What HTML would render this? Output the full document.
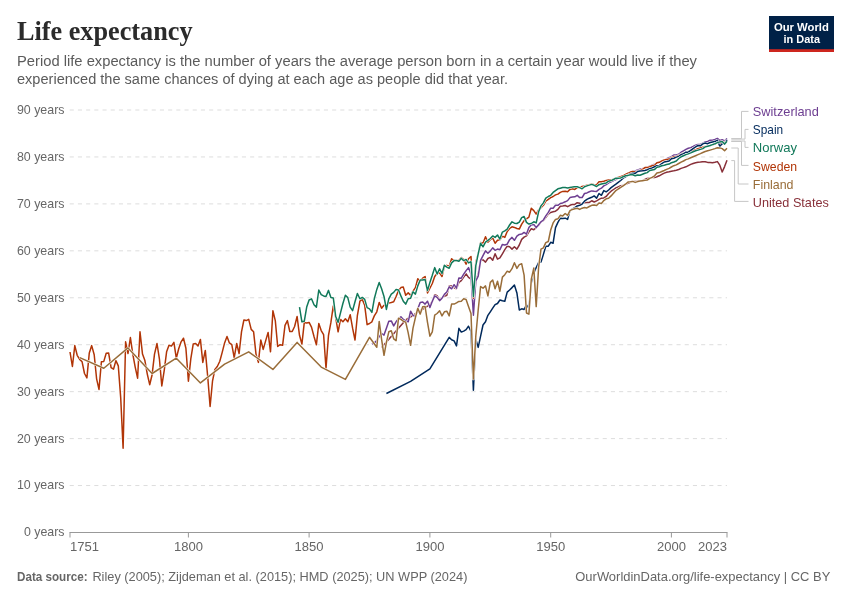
<!DOCTYPE html>
<html lang="en"><head><meta charset="utf-8"><title>Life expectancy</title>
<style>html,body{margin:0;padding:0;background:#fff}body{width:850px;height:600px;overflow:hidden}</style></head>
<body>
<svg width="850" height="600" viewBox="0 0 850 600" style="display:block;font-family:'Liberation Sans',sans-serif">
<rect width="850" height="600" fill="#fff"/>
<text x="17" y="40.2" font-family="'Liberation Serif',serif" font-weight="bold" font-size="28" fill="#2b2b2b" textLength="175.5" lengthAdjust="spacingAndGlyphs">Life expectancy</text>
<text x="17" y="66.4" font-size="14" fill="#5b5b5b" textLength="680" lengthAdjust="spacingAndGlyphs">Period life expectancy is the number of years the average person born in a certain year would live if they</text>
<text x="17" y="84.2" font-size="14" fill="#5b5b5b" textLength="491" lengthAdjust="spacingAndGlyphs">experienced the same chances of dying at each age as people did that year.</text>
<rect x="769" y="16" width="65" height="36" fill="#002147"/><rect x="769" y="49.2" width="65" height="2.8" fill="#ce261e"/>
<text x="801.4" y="30.6" font-size="11.5" font-weight="bold" fill="#fff" text-anchor="middle" textLength="55" lengthAdjust="spacingAndGlyphs">Our World</text>
<text x="801.8" y="42.6" font-size="11.5" font-weight="bold" fill="#fff" text-anchor="middle" textLength="36.5" lengthAdjust="spacingAndGlyphs">in Data</text>
<text x="64.5" y="536.4" font-size="13.2" fill="#666" text-anchor="end" textLength="40.6" lengthAdjust="spacingAndGlyphs">0 years</text>
<line x1="69.7" x2="727" y1="485.56" y2="485.56" stroke="#ddd" stroke-width="1" stroke-dasharray="4.1,4.1"/>
<text x="64.5" y="489.4" font-size="13.2" fill="#666" text-anchor="end" textLength="47.6" lengthAdjust="spacingAndGlyphs">10 years</text>
<line x1="69.7" x2="727" y1="438.61" y2="438.61" stroke="#ddd" stroke-width="1" stroke-dasharray="4.1,4.1"/>
<text x="64.5" y="442.5" font-size="13.2" fill="#666" text-anchor="end" textLength="47.6" lengthAdjust="spacingAndGlyphs">20 years</text>
<line x1="69.7" x2="727" y1="391.67" y2="391.67" stroke="#ddd" stroke-width="1" stroke-dasharray="4.1,4.1"/>
<text x="64.5" y="395.5" font-size="13.2" fill="#666" text-anchor="end" textLength="47.6" lengthAdjust="spacingAndGlyphs">30 years</text>
<line x1="69.7" x2="727" y1="344.72" y2="344.72" stroke="#ddd" stroke-width="1" stroke-dasharray="4.1,4.1"/>
<text x="64.5" y="348.6" font-size="13.2" fill="#666" text-anchor="end" textLength="47.6" lengthAdjust="spacingAndGlyphs">40 years</text>
<line x1="69.7" x2="727" y1="297.78" y2="297.78" stroke="#ddd" stroke-width="1" stroke-dasharray="4.1,4.1"/>
<text x="64.5" y="301.6" font-size="13.2" fill="#666" text-anchor="end" textLength="47.6" lengthAdjust="spacingAndGlyphs">50 years</text>
<line x1="69.7" x2="727" y1="250.83" y2="250.83" stroke="#ddd" stroke-width="1" stroke-dasharray="4.1,4.1"/>
<text x="64.5" y="254.7" font-size="13.2" fill="#666" text-anchor="end" textLength="47.6" lengthAdjust="spacingAndGlyphs">60 years</text>
<line x1="69.7" x2="727" y1="203.89" y2="203.89" stroke="#ddd" stroke-width="1" stroke-dasharray="4.1,4.1"/>
<text x="64.5" y="207.7" font-size="13.2" fill="#666" text-anchor="end" textLength="47.6" lengthAdjust="spacingAndGlyphs">70 years</text>
<line x1="69.7" x2="727" y1="156.94" y2="156.94" stroke="#ddd" stroke-width="1" stroke-dasharray="4.1,4.1"/>
<text x="64.5" y="160.8" font-size="13.2" fill="#666" text-anchor="end" textLength="47.6" lengthAdjust="spacingAndGlyphs">80 years</text>
<line x1="69.7" x2="727" y1="110.00" y2="110.00" stroke="#ddd" stroke-width="1" stroke-dasharray="4.1,4.1"/>
<text x="64.5" y="113.9" font-size="13.2" fill="#666" text-anchor="end" textLength="47.6" lengthAdjust="spacingAndGlyphs">90 years</text>
<line x1="69.5" x2="727.5" y1="532.5" y2="532.5" stroke="#999" stroke-width="1"/>
<line x1="70.0" x2="70.0" y1="532.5" y2="537.5" stroke="#999" stroke-width="1"/>
<text x="70.0" y="550.7" font-size="13.2" fill="#666" text-anchor="start" textLength="29" lengthAdjust="spacingAndGlyphs">1751</text>
<line x1="188.4" x2="188.4" y1="532.5" y2="537.5" stroke="#999" stroke-width="1"/>
<text x="188.4" y="550.7" font-size="13.2" fill="#666" text-anchor="middle" textLength="29" lengthAdjust="spacingAndGlyphs">1800</text>
<line x1="309.1" x2="309.1" y1="532.5" y2="537.5" stroke="#999" stroke-width="1"/>
<text x="309.1" y="550.7" font-size="13.2" fill="#666" text-anchor="middle" textLength="29" lengthAdjust="spacingAndGlyphs">1850</text>
<line x1="429.9" x2="429.9" y1="532.5" y2="537.5" stroke="#999" stroke-width="1"/>
<text x="429.9" y="550.7" font-size="13.2" fill="#666" text-anchor="middle" textLength="29" lengthAdjust="spacingAndGlyphs">1900</text>
<line x1="550.7" x2="550.7" y1="532.5" y2="537.5" stroke="#999" stroke-width="1"/>
<text x="550.7" y="550.7" font-size="13.2" fill="#666" text-anchor="middle" textLength="29" lengthAdjust="spacingAndGlyphs">1950</text>
<line x1="671.4" x2="671.4" y1="532.5" y2="537.5" stroke="#999" stroke-width="1"/>
<text x="671.4" y="550.7" font-size="13.2" fill="#666" text-anchor="middle" textLength="29" lengthAdjust="spacingAndGlyphs">2000</text>
<line x1="727.0" x2="727.0" y1="532.5" y2="537.5" stroke="#999" stroke-width="1"/>
<text x="727.0" y="550.7" font-size="13.2" fill="#666" text-anchor="end" textLength="29" lengthAdjust="spacingAndGlyphs">2023</text>
<path d="M731.3,138.6 H741.5 V111.4 H748.5" fill="none" stroke="#c6c6c6" stroke-width="1"/>
<path d="M731.3,139.1 H745.0 V129.4 H748.5" fill="none" stroke="#c6c6c6" stroke-width="1"/>
<path d="M731.3,141.0 H745.0 V147.4 H748.5" fill="none" stroke="#c6c6c6" stroke-width="1"/>
<path d="M731.3,141.5 H741.5 V165.4 H748.5" fill="none" stroke="#c6c6c6" stroke-width="1"/>
<path d="M731.3,148.0 H738.2 V184.0 H748.5" fill="none" stroke="#c6c6c6" stroke-width="1"/>
<path d="M731.3,160.6 H734.6 V201.4 H748.5" fill="none" stroke="#c6c6c6" stroke-width="1"/>
<path d="M381.6,347.5 L405.7,320.0 L429.9,304.6 L432.3,301.7 L434.7,294.7 L437.1,295.8 L439.6,299.9 L442.0,297.6 L444.4,296.4 L446.8,295.3 L449.2,285.9 L451.6,285.9 L454.1,287.7 L456.5,288.8 L458.9,282.4 L461.3,280.7 L463.7,277.2 L466.1,273.8 L468.5,277.4 L471.0,279.1 L473.4,311.0 L475.8,281.0 L478.2,273.8 L480.6,260.3 L483.0,259.7 L485.5,262.1 L487.9,258.5 L490.3,257.4 L492.7,260.3 L495.1,253.8 L497.5,259.1 L499.9,257.9 L502.4,253.8 L504.8,249.7 L507.2,246.2 L509.6,246.8 L512.0,249.1 L514.4,246.8 L516.9,249.1 L519.3,245.0 L521.7,239.4 L524.1,237.1 L526.5,235.9 L528.9,231.8 L531.3,228.8 L533.8,229.8 L536.2,227.6 L538.6,225.3 L541.0,221.8 L543.4,220.6 L545.8,217.6 L548.3,214.1 L550.7,212.4 L553.1,211.8 L555.5,211.2 L557.9,209.4 L560.3,206.2 L562.7,205.9 L565.2,205.5 L567.6,206.7 L570.0,205.3 L572.4,204.4 L574.8,204.4 L577.2,202.7 L579.7,203.2 L582.1,203.9 L584.5,202.7 L586.9,202.4 L589.3,202.4 L591.7,200.8 L594.2,202.0 L596.6,200.8 L599.0,199.4 L601.4,198.2 L603.8,198.0 L606.2,196.5 L608.6,193.5 L611.1,191.2 L613.5,189.5 L615.9,187.9 L618.2,186.9 L620.7,185.8 L623.1,185.6 L625.5,184.2 L628.0,183.2 L630.4,182.4 L632.7,181.6 L635.2,181.6 L637.6,181.4 L640.0,181.1 L642.5,180.7 L644.9,179.5 L647.2,178.4 L649.7,177.9 L652.1,177.6 L654.6,177.4 L656.9,176.8 L659.3,175.8 L661.8,174.4 L664.2,173.1 L666.6,172.3 L669.1,171.8 L671.4,171.2 L673.8,170.8 L676.3,170.2 L678.7,169.5 L681.1,168.4 L683.5,167.6 L685.9,166.8 L688.3,165.6 L690.7,164.4 L693.1,163.5 L695.6,162.8 L698.0,162.3 L700.4,162.1 L702.8,161.8 L705.2,161.7 L707.7,162.4 L710.1,162.6 L712.5,162.8 L714.9,162.3 L717.4,161.6 L719.8,165.2 L722.2,172.0 L724.6,166.6 L727.0,160.3" fill="none" stroke="#fff" stroke-width="2.5" stroke-linejoin="round" stroke-linecap="butt"/>
<path d="M381.6,347.5 L405.7,320.0 L429.9,304.6 L432.3,301.7 L434.7,294.7 L437.1,295.8 L439.6,299.9 L442.0,297.6 L444.4,296.4 L446.8,295.3 L449.2,285.9 L451.6,285.9 L454.1,287.7 L456.5,288.8 L458.9,282.4 L461.3,280.7 L463.7,277.2 L466.1,273.8 L468.5,277.4 L471.0,279.1 L473.4,311.0 L475.8,281.0 L478.2,273.8 L480.6,260.3 L483.0,259.7 L485.5,262.1 L487.9,258.5 L490.3,257.4 L492.7,260.3 L495.1,253.8 L497.5,259.1 L499.9,257.9 L502.4,253.8 L504.8,249.7 L507.2,246.2 L509.6,246.8 L512.0,249.1 L514.4,246.8 L516.9,249.1 L519.3,245.0 L521.7,239.4 L524.1,237.1 L526.5,235.9 L528.9,231.8 L531.3,228.8 L533.8,229.8 L536.2,227.6 L538.6,225.3 L541.0,221.8 L543.4,220.6 L545.8,217.6 L548.3,214.1 L550.7,212.4 L553.1,211.8 L555.5,211.2 L557.9,209.4 L560.3,206.2 L562.7,205.9 L565.2,205.5 L567.6,206.7 L570.0,205.3 L572.4,204.4 L574.8,204.4 L577.2,202.7 L579.7,203.2 L582.1,203.9 L584.5,202.7 L586.9,202.4 L589.3,202.4 L591.7,200.8 L594.2,202.0 L596.6,200.8 L599.0,199.4 L601.4,198.2 L603.8,198.0 L606.2,196.5 L608.6,193.5 L611.1,191.2 L613.5,189.5 L615.9,187.9 L618.2,186.9 L620.7,185.8 L623.1,185.6 L625.5,184.2 L628.0,183.2 L630.4,182.4 L632.7,181.6 L635.2,181.6 L637.6,181.4 L640.0,181.1 L642.5,180.7 L644.9,179.5 L647.2,178.4 L649.7,177.9 L652.1,177.6 L654.6,177.4 L656.9,176.8 L659.3,175.8 L661.8,174.4 L664.2,173.1 L666.6,172.3 L669.1,171.8 L671.4,171.2 L673.8,170.8 L676.3,170.2 L678.7,169.5 L681.1,168.4 L683.5,167.6 L685.9,166.8 L688.3,165.6 L690.7,164.4 L693.1,163.5 L695.6,162.8 L698.0,162.3 L700.4,162.1 L702.8,161.8 L705.2,161.7 L707.7,162.4 L710.1,162.6 L712.5,162.8 L714.9,162.3 L717.4,161.6 L719.8,165.2 L722.2,172.0 L724.6,166.6 L727.0,160.3" fill="none" stroke="#883039" stroke-width="1.5" stroke-linejoin="round" stroke-linecap="butt"/>
<path d="M371.9,344.1 L374.3,342.9 L376.8,340.6 L379.2,336.5 L381.6,333.5 L384.0,335.1 L386.4,328.2 L388.8,321.2 L391.3,320.9 L393.7,325.9 L396.1,321.8 L398.5,318.8 L400.9,316.7 L403.3,319.4 L405.7,320.9 L408.2,321.8 L410.6,311.2 L413.0,315.3 L415.4,316.5 L417.8,308.8 L420.2,302.4 L422.7,302.0 L425.1,304.1 L427.5,301.2 L429.9,307.6 L432.3,301.2 L434.7,295.9 L437.1,297.4 L439.6,300.6 L442.0,298.2 L444.4,294.4 L446.8,292.0 L449.2,286.8 L451.6,288.8 L454.1,284.7 L456.5,288.2 L458.9,277.9 L461.3,278.2 L463.7,274.1 L466.1,270.6 L468.5,267.6 L471.0,274.1 L473.4,315.3 L475.8,280.9 L478.2,276.2 L480.6,260.3 L483.0,255.6 L485.5,250.9 L487.9,253.2 L490.3,250.9 L492.7,247.9 L495.1,250.3 L497.5,249.1 L499.9,249.7 L502.4,244.4 L504.8,245.0 L507.2,244.2 L509.6,239.7 L512.0,237.4 L514.4,240.3 L516.9,236.2 L519.3,234.4 L521.7,234.1 L524.1,232.4 L526.5,234.1 L528.9,227.6 L531.3,224.7 L533.8,224.4 L536.2,227.6 L538.6,224.7 L541.0,221.8 L543.4,220.0 L545.8,215.9 L548.3,212.4 L550.7,208.2 L553.1,208.2 L555.5,205.3 L557.9,205.3 L560.3,203.5 L562.7,202.9 L565.2,201.8 L567.6,200.6 L570.0,197.6 L572.4,197.1 L574.8,196.8 L577.2,195.3 L579.7,197.6 L582.1,197.6 L584.5,193.5 L586.9,192.9 L589.3,191.8 L591.7,190.9 L594.2,191.2 L596.6,191.4 L599.0,189.4 L601.4,188.2 L603.8,185.9 L606.2,184.7 L608.6,182.9 L611.1,181.8 L613.5,180.5 L615.9,179.5 L618.2,178.2 L620.7,176.8 L623.1,175.8 L626.2,174.2 L628.0,173.3 L630.4,172.3 L632.7,171.5 L635.2,171.0 L637.6,169.9 L640.0,169.1 L642.5,168.7 L644.9,167.8 L647.2,167.1 L649.7,166.2 L652.1,165.2 L654.6,164.1 L656.9,163.1 L659.3,162.3 L661.8,161.3 L664.2,160.2 L666.6,158.8 L669.1,157.8 L671.4,156.7 L673.8,155.1 L676.3,155.0 L678.7,154.3 L681.1,152.2 L683.5,150.8 L685.9,149.4 L688.3,148.3 L690.7,147.6 L693.1,146.5 L695.6,145.1 L698.0,144.4 L700.4,144.4 L702.8,143.2 L705.2,141.8 L707.7,141.4 L710.1,140.2 L712.5,140.2 L714.9,139.5 L717.4,138.4 L719.8,140.5 L722.2,139.8 L724.6,140.9 L727.0,138.4" fill="none" stroke="#fff" stroke-width="2.5" stroke-linejoin="round" stroke-linecap="butt"/>
<path d="M371.9,344.1 L374.3,342.9 L376.8,340.6 L379.2,336.5 L381.6,333.5 L384.0,335.1 L386.4,328.2 L388.8,321.2 L391.3,320.9 L393.7,325.9 L396.1,321.8 L398.5,318.8 L400.9,316.7 L403.3,319.4 L405.7,320.9 L408.2,321.8 L410.6,311.2 L413.0,315.3 L415.4,316.5 L417.8,308.8 L420.2,302.4 L422.7,302.0 L425.1,304.1 L427.5,301.2 L429.9,307.6 L432.3,301.2 L434.7,295.9 L437.1,297.4 L439.6,300.6 L442.0,298.2 L444.4,294.4 L446.8,292.0 L449.2,286.8 L451.6,288.8 L454.1,284.7 L456.5,288.2 L458.9,277.9 L461.3,278.2 L463.7,274.1 L466.1,270.6 L468.5,267.6 L471.0,274.1 L473.4,315.3 L475.8,280.9 L478.2,276.2 L480.6,260.3 L483.0,255.6 L485.5,250.9 L487.9,253.2 L490.3,250.9 L492.7,247.9 L495.1,250.3 L497.5,249.1 L499.9,249.7 L502.4,244.4 L504.8,245.0 L507.2,244.2 L509.6,239.7 L512.0,237.4 L514.4,240.3 L516.9,236.2 L519.3,234.4 L521.7,234.1 L524.1,232.4 L526.5,234.1 L528.9,227.6 L531.3,224.7 L533.8,224.4 L536.2,227.6 L538.6,224.7 L541.0,221.8 L543.4,220.0 L545.8,215.9 L548.3,212.4 L550.7,208.2 L553.1,208.2 L555.5,205.3 L557.9,205.3 L560.3,203.5 L562.7,202.9 L565.2,201.8 L567.6,200.6 L570.0,197.6 L572.4,197.1 L574.8,196.8 L577.2,195.3 L579.7,197.6 L582.1,197.6 L584.5,193.5 L586.9,192.9 L589.3,191.8 L591.7,190.9 L594.2,191.2 L596.6,191.4 L599.0,189.4 L601.4,188.2 L603.8,185.9 L606.2,184.7 L608.6,182.9 L611.1,181.8 L613.5,180.5 L615.9,179.5 L618.2,178.2 L620.7,176.8 L623.1,175.8 L626.2,174.2 L628.0,173.3 L630.4,172.3 L632.7,171.5 L635.2,171.0 L637.6,169.9 L640.0,169.1 L642.5,168.7 L644.9,167.8 L647.2,167.1 L649.7,166.2 L652.1,165.2 L654.6,164.1 L656.9,163.1 L659.3,162.3 L661.8,161.3 L664.2,160.2 L666.6,158.8 L669.1,157.8 L671.4,156.7 L673.8,155.1 L676.3,155.0 L678.7,154.3 L681.1,152.2 L683.5,150.8 L685.9,149.4 L688.3,148.3 L690.7,147.6 L693.1,146.5 L695.6,145.1 L698.0,144.4 L700.4,144.4 L702.8,143.2 L705.2,141.8 L707.7,141.4 L710.1,140.2 L712.5,140.2 L714.9,139.5 L717.4,138.4 L719.8,140.5 L722.2,139.8 L724.6,140.9 L727.0,138.4" fill="none" stroke="#6D3E91" stroke-width="1.5" stroke-linejoin="round" stroke-linecap="butt"/>
<path d="M70.0,352.0 L72.4,366.5 L74.8,345.6 L77.2,355.3 L79.7,359.4 L82.1,361.8 L84.5,373.5 L86.9,377.9 L89.3,352.9 L91.7,345.6 L94.2,354.7 L96.6,378.8 L99.0,389.4 L101.4,361.8 L103.8,361.4 L106.2,353.3 L108.6,352.9 L111.1,367.6 L113.5,369.2 L115.9,360.6 L118.3,365.9 L120.7,397.6 L123.1,448.2 L125.6,341.8 L128.0,353.5 L130.4,337.6 L132.8,354.1 L135.2,367.1 L137.6,378.2 L140.0,331.8 L142.5,354.1 L144.9,360.6 L147.3,374.1 L149.7,384.7 L152.1,374.7 L154.5,354.1 L157.0,343.5 L159.4,358.8 L161.8,385.9 L164.2,370.6 L166.6,351.8 L169.0,345.3 L171.4,346.1 L173.9,342.4 L176.3,358.2 L178.7,348.8 L181.1,341.8 L183.5,338.2 L185.9,348.2 L188.4,381.2 L190.8,358.8 L193.2,344.1 L195.6,343.5 L198.0,345.9 L200.4,339.4 L202.8,362.4 L205.3,350.4 L207.7,376.5 L210.1,406.5 L212.5,381.2 L214.9,369.4 L217.3,366.5 L219.8,361.2 L222.2,352.4 L224.6,342.9 L227.0,336.5 L229.4,342.9 L231.8,344.7 L234.2,357.6 L236.7,343.5 L239.1,353.5 L241.5,331.8 L243.9,320.0 L246.3,320.6 L248.7,319.4 L251.2,329.4 L253.6,331.8 L256.0,354.1 L258.4,362.4 L260.8,340.0 L263.2,349.4 L265.7,340.6 L268.1,332.4 L270.5,351.8 L272.9,310.8 L275.3,320.6 L277.7,346.5 L280.1,344.7 L282.6,345.3 L285.0,325.3 L287.4,320.6 L289.8,331.5 L292.2,331.5 L294.6,326.5 L297.1,316.5 L299.5,335.3 L301.9,344.1 L304.3,322.4 L306.7,322.9 L309.1,322.4 L311.5,327.1 L314.0,336.5 L316.4,344.7 L318.8,323.5 L321.2,330.6 L323.6,334.7 L326.0,368.2 L328.5,335.3 L330.9,322.4 L333.3,305.9 L335.7,317.6 L338.1,331.8 L340.5,319.4 L342.9,321.8 L345.4,318.8 L347.8,321.8 L350.2,314.7 L352.6,328.2 L355.0,340.0 L357.4,315.3 L359.9,301.2 L362.3,299.4 L364.7,305.3 L367.1,324.7 L369.5,323.5 L371.9,321.8 L374.3,315.9 L376.8,311.8 L379.2,302.4 L381.6,308.2 L384.0,305.3 L386.4,304.1 L388.8,302.9 L391.3,302.4 L393.7,301.8 L396.1,296.5 L398.5,290.6 L400.9,287.6 L403.3,287.1 L405.7,295.3 L408.2,292.9 L410.6,295.3 L413.0,291.2 L415.4,287.6 L417.8,278.8 L420.2,281.2 L422.7,278.2 L425.1,276.5 L427.5,292.9 L429.9,288.2 L432.3,283.5 L434.7,276.5 L437.1,273.5 L439.6,272.9 L442.0,276.5 L444.4,266.5 L446.8,265.3 L449.2,266.5 L451.6,258.8 L454.1,260.6 L456.5,260.9 L458.9,260.2 L461.3,257.6 L463.7,259.4 L466.1,264.1 L468.5,258.8 L471.0,256.5 L473.4,298.2 L475.8,262.1 L478.2,253.8 L480.6,242.6 L483.0,243.2 L485.5,236.8 L487.9,242.1 L490.3,239.7 L492.7,237.9 L495.1,243.2 L497.5,240.3 L499.9,239.7 L502.4,236.2 L504.8,237.4 L507.2,231.5 L509.6,228.5 L512.0,226.8 L514.4,227.4 L516.9,228.5 L519.3,229.1 L521.7,224.1 L524.1,220.6 L526.5,218.8 L528.9,217.1 L531.3,208.2 L533.8,210.6 L536.2,214.1 L538.6,210.0 L541.0,207.6 L543.4,205.3 L545.8,201.2 L548.3,199.4 L550.7,197.6 L553.1,196.5 L555.5,194.9 L557.9,194.1 L560.3,192.4 L562.7,191.4 L565.2,191.2 L567.6,191.8 L570.0,189.4 L572.4,188.8 L574.8,189.4 L577.2,187.6 L579.7,187.6 L582.1,186.5 L584.5,185.9 L586.9,185.3 L589.3,184.7 L591.7,184.1 L594.2,184.7 L596.6,184.7 L599.0,181.8 L601.4,181.8 L603.8,181.2 L606.2,180.4 L608.6,180.0 L611.1,180.0 L613.5,179.3 L615.9,177.9 L618.2,177.4 L620.7,176.8 L623.1,175.8 L625.5,174.4 L628.0,173.3 L630.4,172.1 L632.7,171.5 L635.2,172.1 L637.6,171.0 L640.0,170.5 L642.5,169.4 L644.9,167.6 L647.2,167.6 L649.7,166.8 L652.1,165.7 L654.6,165.2 L656.9,162.7 L659.3,162.3 L661.8,160.9 L664.2,159.9 L666.6,159.6 L669.1,159.1 L671.4,157.8 L673.8,157.0 L676.3,156.6 L678.7,155.4 L681.1,154.3 L683.5,153.2 L685.9,152.4 L688.3,151.5 L690.7,151.0 L693.1,150.4 L695.6,149.7 L698.0,148.7 L700.4,147.9 L702.8,147.2 L705.2,146.5 L707.7,146.2 L710.1,145.5 L712.5,144.8 L714.9,144.1 L717.4,142.3 L719.8,144.4 L722.2,141.9 L724.6,142.3 L727.0,140.5" fill="none" stroke="#fff" stroke-width="2.5" stroke-linejoin="round" stroke-linecap="butt"/>
<path d="M70.0,352.0 L72.4,366.5 L74.8,345.6 L77.2,355.3 L79.7,359.4 L82.1,361.8 L84.5,373.5 L86.9,377.9 L89.3,352.9 L91.7,345.6 L94.2,354.7 L96.6,378.8 L99.0,389.4 L101.4,361.8 L103.8,361.4 L106.2,353.3 L108.6,352.9 L111.1,367.6 L113.5,369.2 L115.9,360.6 L118.3,365.9 L120.7,397.6 L123.1,448.2 L125.6,341.8 L128.0,353.5 L130.4,337.6 L132.8,354.1 L135.2,367.1 L137.6,378.2 L140.0,331.8 L142.5,354.1 L144.9,360.6 L147.3,374.1 L149.7,384.7 L152.1,374.7 L154.5,354.1 L157.0,343.5 L159.4,358.8 L161.8,385.9 L164.2,370.6 L166.6,351.8 L169.0,345.3 L171.4,346.1 L173.9,342.4 L176.3,358.2 L178.7,348.8 L181.1,341.8 L183.5,338.2 L185.9,348.2 L188.4,381.2 L190.8,358.8 L193.2,344.1 L195.6,343.5 L198.0,345.9 L200.4,339.4 L202.8,362.4 L205.3,350.4 L207.7,376.5 L210.1,406.5 L212.5,381.2 L214.9,369.4 L217.3,366.5 L219.8,361.2 L222.2,352.4 L224.6,342.9 L227.0,336.5 L229.4,342.9 L231.8,344.7 L234.2,357.6 L236.7,343.5 L239.1,353.5 L241.5,331.8 L243.9,320.0 L246.3,320.6 L248.7,319.4 L251.2,329.4 L253.6,331.8 L256.0,354.1 L258.4,362.4 L260.8,340.0 L263.2,349.4 L265.7,340.6 L268.1,332.4 L270.5,351.8 L272.9,310.8 L275.3,320.6 L277.7,346.5 L280.1,344.7 L282.6,345.3 L285.0,325.3 L287.4,320.6 L289.8,331.5 L292.2,331.5 L294.6,326.5 L297.1,316.5 L299.5,335.3 L301.9,344.1 L304.3,322.4 L306.7,322.9 L309.1,322.4 L311.5,327.1 L314.0,336.5 L316.4,344.7 L318.8,323.5 L321.2,330.6 L323.6,334.7 L326.0,368.2 L328.5,335.3 L330.9,322.4 L333.3,305.9 L335.7,317.6 L338.1,331.8 L340.5,319.4 L342.9,321.8 L345.4,318.8 L347.8,321.8 L350.2,314.7 L352.6,328.2 L355.0,340.0 L357.4,315.3 L359.9,301.2 L362.3,299.4 L364.7,305.3 L367.1,324.7 L369.5,323.5 L371.9,321.8 L374.3,315.9 L376.8,311.8 L379.2,302.4 L381.6,308.2 L384.0,305.3 L386.4,304.1 L388.8,302.9 L391.3,302.4 L393.7,301.8 L396.1,296.5 L398.5,290.6 L400.9,287.6 L403.3,287.1 L405.7,295.3 L408.2,292.9 L410.6,295.3 L413.0,291.2 L415.4,287.6 L417.8,278.8 L420.2,281.2 L422.7,278.2 L425.1,276.5 L427.5,292.9 L429.9,288.2 L432.3,283.5 L434.7,276.5 L437.1,273.5 L439.6,272.9 L442.0,276.5 L444.4,266.5 L446.8,265.3 L449.2,266.5 L451.6,258.8 L454.1,260.6 L456.5,260.9 L458.9,260.2 L461.3,257.6 L463.7,259.4 L466.1,264.1 L468.5,258.8 L471.0,256.5 L473.4,298.2 L475.8,262.1 L478.2,253.8 L480.6,242.6 L483.0,243.2 L485.5,236.8 L487.9,242.1 L490.3,239.7 L492.7,237.9 L495.1,243.2 L497.5,240.3 L499.9,239.7 L502.4,236.2 L504.8,237.4 L507.2,231.5 L509.6,228.5 L512.0,226.8 L514.4,227.4 L516.9,228.5 L519.3,229.1 L521.7,224.1 L524.1,220.6 L526.5,218.8 L528.9,217.1 L531.3,208.2 L533.8,210.6 L536.2,214.1 L538.6,210.0 L541.0,207.6 L543.4,205.3 L545.8,201.2 L548.3,199.4 L550.7,197.6 L553.1,196.5 L555.5,194.9 L557.9,194.1 L560.3,192.4 L562.7,191.4 L565.2,191.2 L567.6,191.8 L570.0,189.4 L572.4,188.8 L574.8,189.4 L577.2,187.6 L579.7,187.6 L582.1,186.5 L584.5,185.9 L586.9,185.3 L589.3,184.7 L591.7,184.1 L594.2,184.7 L596.6,184.7 L599.0,181.8 L601.4,181.8 L603.8,181.2 L606.2,180.4 L608.6,180.0 L611.1,180.0 L613.5,179.3 L615.9,177.9 L618.2,177.4 L620.7,176.8 L623.1,175.8 L625.5,174.4 L628.0,173.3 L630.4,172.1 L632.7,171.5 L635.2,172.1 L637.6,171.0 L640.0,170.5 L642.5,169.4 L644.9,167.6 L647.2,167.6 L649.7,166.8 L652.1,165.7 L654.6,165.2 L656.9,162.7 L659.3,162.3 L661.8,160.9 L664.2,159.9 L666.6,159.6 L669.1,159.1 L671.4,157.8 L673.8,157.0 L676.3,156.6 L678.7,155.4 L681.1,154.3 L683.5,153.2 L685.9,152.4 L688.3,151.5 L690.7,151.0 L693.1,150.4 L695.6,149.7 L698.0,148.7 L700.4,147.9 L702.8,147.2 L705.2,146.5 L707.7,146.2 L710.1,145.5 L712.5,144.8 L714.9,144.1 L717.4,142.3 L719.8,144.4 L722.2,141.9 L724.6,142.3 L727.0,140.5" fill="none" stroke="#B13507" stroke-width="1.5" stroke-linejoin="round" stroke-linecap="butt"/>
<path d="M386.4,393.5 L410.6,381.4 L429.9,368.8 L449.2,337.4 L451.6,339.7 L454.1,340.9 L456.5,345.9 L458.9,328.3 L461.3,332.1 L463.7,331.1 L466.1,329.7 L468.5,326.2 L471.0,331.5 L473.4,390.3 L475.8,339.1 L478.2,347.4 L480.6,336.2 L483.0,325.0 L485.5,321.8 L487.9,315.3 L490.3,311.8 L492.7,308.2 L495.1,304.7 L497.5,303.5 L499.9,300.0 L502.4,300.8 L504.8,301.2 L507.2,292.1 L509.6,290.0 L512.0,287.6 L514.4,285.1 L516.9,292.9 L519.3,310.0 L521.7,308.8 L524.1,309.4 L526.5,304.8 L528.9,308.3 L531.3,282.7 L533.8,273.3 L536.2,267.5 L538.6,262.5 L541.0,262.1 L543.4,254.4 L545.8,246.2 L548.3,246.2 L550.7,242.3 L553.1,243.2 L555.5,227.6 L557.9,222.4 L560.3,218.2 L562.7,218.5 L565.2,218.2 L567.6,219.4 L570.0,210.6 L572.4,208.8 L574.8,207.6 L577.2,205.9 L579.7,205.3 L582.1,204.1 L584.5,201.2 L586.9,199.4 L589.3,198.2 L591.7,197.3 L594.2,195.9 L596.6,198.2 L599.0,193.5 L601.4,195.3 L603.8,190.6 L606.2,191.8 L608.6,190.0 L611.1,187.6 L613.5,185.8 L615.9,184.2 L618.2,182.4 L620.7,180.5 L623.1,178.2 L625.5,176.8 L628.0,175.0 L630.4,174.0 L632.7,173.3 L635.2,173.3 L637.6,171.5 L640.0,171.0 L642.5,170.8 L644.9,170.5 L647.2,169.7 L649.7,168.7 L652.1,168.0 L654.6,166.8 L656.9,165.7 L659.3,165.5 L661.8,163.6 L664.2,162.0 L666.6,161.5 L669.1,160.9 L671.4,158.8 L673.8,158.3 L676.3,157.1 L678.7,156.4 L681.1,154.6 L683.5,153.8 L685.9,152.2 L688.3,152.2 L690.7,150.4 L693.1,148.6 L695.6,146.9 L698.0,145.5 L700.4,145.8 L702.8,143.9 L705.2,143.0 L707.7,143.7 L710.1,142.5 L712.5,141.9 L714.9,141.6 L717.4,140.2 L719.8,146.2 L722.2,143.7 L724.6,143.4 L727.0,139.8" fill="none" stroke="#fff" stroke-width="2.5" stroke-linejoin="round" stroke-linecap="butt"/>
<path d="M386.4,393.5 L410.6,381.4 L429.9,368.8 L449.2,337.4 L451.6,339.7 L454.1,340.9 L456.5,345.9 L458.9,328.3 L461.3,332.1 L463.7,331.1 L466.1,329.7 L468.5,326.2 L471.0,331.5 L473.4,390.3 L475.8,339.1 L478.2,347.4 L480.6,336.2 L483.0,325.0 L485.5,321.8 L487.9,315.3 L490.3,311.8 L492.7,308.2 L495.1,304.7 L497.5,303.5 L499.9,300.0 L502.4,300.8 L504.8,301.2 L507.2,292.1 L509.6,290.0 L512.0,287.6 L514.4,285.1 L516.9,292.9 L519.3,310.0 L521.7,308.8 L524.1,309.4 L526.5,304.8 L528.9,308.3 L531.3,282.7 L533.8,273.3 L536.2,267.5 L538.6,262.5 L541.0,262.1 L543.4,254.4 L545.8,246.2 L548.3,246.2 L550.7,242.3 L553.1,243.2 L555.5,227.6 L557.9,222.4 L560.3,218.2 L562.7,218.5 L565.2,218.2 L567.6,219.4 L570.0,210.6 L572.4,208.8 L574.8,207.6 L577.2,205.9 L579.7,205.3 L582.1,204.1 L584.5,201.2 L586.9,199.4 L589.3,198.2 L591.7,197.3 L594.2,195.9 L596.6,198.2 L599.0,193.5 L601.4,195.3 L603.8,190.6 L606.2,191.8 L608.6,190.0 L611.1,187.6 L613.5,185.8 L615.9,184.2 L618.2,182.4 L620.7,180.5 L623.1,178.2 L625.5,176.8 L628.0,175.0 L630.4,174.0 L632.7,173.3 L635.2,173.3 L637.6,171.5 L640.0,171.0 L642.5,170.8 L644.9,170.5 L647.2,169.7 L649.7,168.7 L652.1,168.0 L654.6,166.8 L656.9,165.7 L659.3,165.5 L661.8,163.6 L664.2,162.0 L666.6,161.5 L669.1,160.9 L671.4,158.8 L673.8,158.3 L676.3,157.1 L678.7,156.4 L681.1,154.6 L683.5,153.8 L685.9,152.2 L688.3,152.2 L690.7,150.4 L693.1,148.6 L695.6,146.9 L698.0,145.5 L700.4,145.8 L702.8,143.9 L705.2,143.0 L707.7,143.7 L710.1,142.5 L712.5,141.9 L714.9,141.6 L717.4,140.2 L719.8,146.2 L722.2,143.7 L724.6,143.4 L727.0,139.8" fill="none" stroke="#00295B" stroke-width="1.5" stroke-linejoin="round" stroke-linecap="butt"/>
<path d="M299.5,307.1 L301.9,321.8 L304.3,321.2 L306.7,307.1 L309.1,300.0 L311.5,298.8 L314.0,304.7 L316.4,307.1 L318.8,290.0 L321.2,294.7 L323.6,295.9 L326.0,296.5 L328.5,290.4 L330.9,297.6 L333.3,297.9 L335.7,316.5 L338.1,322.4 L340.5,312.9 L342.9,303.5 L345.4,295.3 L347.8,297.6 L350.2,307.1 L352.6,310.6 L355.0,301.8 L357.4,293.5 L359.9,298.8 L362.3,297.4 L364.7,299.4 L367.1,307.6 L369.5,308.8 L371.9,312.4 L374.3,298.8 L376.8,289.4 L379.2,282.4 L381.6,288.8 L384.0,296.5 L386.4,309.4 L388.8,298.8 L391.3,294.1 L393.7,292.4 L396.1,289.4 L398.5,290.0 L400.9,295.9 L403.3,301.2 L405.7,304.1 L408.2,298.8 L410.6,298.2 L413.0,291.8 L415.4,294.1 L417.8,285.9 L420.2,280.0 L422.7,280.0 L425.1,279.4 L427.5,290.6 L429.9,282.4 L432.3,275.3 L434.7,267.6 L437.1,274.1 L439.6,268.8 L442.0,273.5 L444.4,265.3 L446.8,267.1 L449.2,268.2 L451.6,262.9 L454.1,260.6 L456.5,260.6 L458.9,261.2 L461.3,258.2 L463.7,260.6 L466.1,259.4 L468.5,262.9 L471.0,261.8 L473.4,296.5 L475.8,265.6 L478.2,253.8 L480.6,243.2 L483.0,246.8 L485.5,242.1 L487.9,240.3 L490.3,238.5 L492.7,235.9 L495.1,237.4 L497.5,235.0 L499.9,239.1 L502.4,232.1 L504.8,230.9 L507.2,229.1 L509.6,225.0 L512.0,221.8 L514.4,223.2 L516.9,223.5 L519.3,222.1 L521.7,217.6 L524.1,216.5 L526.5,222.4 L528.9,224.1 L531.3,223.5 L533.8,221.8 L536.2,222.9 L538.6,211.8 L541.0,205.9 L543.4,202.9 L545.8,198.2 L548.3,196.5 L550.7,195.3 L553.1,192.4 L555.5,190.6 L557.9,188.8 L560.3,188.2 L562.7,187.6 L565.2,187.4 L567.6,187.9 L570.0,187.4 L572.4,187.1 L574.8,186.7 L577.2,186.8 L579.7,187.6 L582.1,188.8 L584.5,186.7 L586.9,185.9 L589.3,185.1 L591.7,184.4 L594.2,185.3 L596.6,186.5 L599.0,184.7 L601.4,184.1 L603.8,183.5 L606.2,182.9 L608.6,181.2 L611.1,180.6 L613.5,179.5 L615.9,178.2 L618.2,178.2 L620.7,177.9 L623.1,176.8 L625.5,175.8 L628.0,175.4 L630.4,174.7 L632.7,174.7 L635.2,175.8 L637.6,175.0 L640.0,175.2 L642.5,174.2 L644.9,173.3 L647.2,172.6 L649.7,170.5 L652.1,169.9 L654.6,169.4 L656.9,167.3 L659.3,166.8 L661.8,165.7 L664.2,165.2 L666.6,164.6 L669.1,164.1 L671.4,162.7 L673.8,162.0 L676.3,161.0 L678.7,158.5 L681.1,156.8 L683.5,155.7 L685.9,154.6 L688.3,153.9 L690.7,152.9 L693.1,151.8 L695.6,150.8 L698.0,150.1 L700.4,149.4 L702.8,148.6 L705.2,146.9 L707.7,146.2 L710.1,145.5 L712.5,144.6 L714.9,143.7 L717.4,142.6 L719.8,141.9 L722.2,141.6 L724.6,144.1 L727.0,141.2" fill="none" stroke="#fff" stroke-width="2.5" stroke-linejoin="round" stroke-linecap="butt"/>
<path d="M299.5,307.1 L301.9,321.8 L304.3,321.2 L306.7,307.1 L309.1,300.0 L311.5,298.8 L314.0,304.7 L316.4,307.1 L318.8,290.0 L321.2,294.7 L323.6,295.9 L326.0,296.5 L328.5,290.4 L330.9,297.6 L333.3,297.9 L335.7,316.5 L338.1,322.4 L340.5,312.9 L342.9,303.5 L345.4,295.3 L347.8,297.6 L350.2,307.1 L352.6,310.6 L355.0,301.8 L357.4,293.5 L359.9,298.8 L362.3,297.4 L364.7,299.4 L367.1,307.6 L369.5,308.8 L371.9,312.4 L374.3,298.8 L376.8,289.4 L379.2,282.4 L381.6,288.8 L384.0,296.5 L386.4,309.4 L388.8,298.8 L391.3,294.1 L393.7,292.4 L396.1,289.4 L398.5,290.0 L400.9,295.9 L403.3,301.2 L405.7,304.1 L408.2,298.8 L410.6,298.2 L413.0,291.8 L415.4,294.1 L417.8,285.9 L420.2,280.0 L422.7,280.0 L425.1,279.4 L427.5,290.6 L429.9,282.4 L432.3,275.3 L434.7,267.6 L437.1,274.1 L439.6,268.8 L442.0,273.5 L444.4,265.3 L446.8,267.1 L449.2,268.2 L451.6,262.9 L454.1,260.6 L456.5,260.6 L458.9,261.2 L461.3,258.2 L463.7,260.6 L466.1,259.4 L468.5,262.9 L471.0,261.8 L473.4,296.5 L475.8,265.6 L478.2,253.8 L480.6,243.2 L483.0,246.8 L485.5,242.1 L487.9,240.3 L490.3,238.5 L492.7,235.9 L495.1,237.4 L497.5,235.0 L499.9,239.1 L502.4,232.1 L504.8,230.9 L507.2,229.1 L509.6,225.0 L512.0,221.8 L514.4,223.2 L516.9,223.5 L519.3,222.1 L521.7,217.6 L524.1,216.5 L526.5,222.4 L528.9,224.1 L531.3,223.5 L533.8,221.8 L536.2,222.9 L538.6,211.8 L541.0,205.9 L543.4,202.9 L545.8,198.2 L548.3,196.5 L550.7,195.3 L553.1,192.4 L555.5,190.6 L557.9,188.8 L560.3,188.2 L562.7,187.6 L565.2,187.4 L567.6,187.9 L570.0,187.4 L572.4,187.1 L574.8,186.7 L577.2,186.8 L579.7,187.6 L582.1,188.8 L584.5,186.7 L586.9,185.9 L589.3,185.1 L591.7,184.4 L594.2,185.3 L596.6,186.5 L599.0,184.7 L601.4,184.1 L603.8,183.5 L606.2,182.9 L608.6,181.2 L611.1,180.6 L613.5,179.5 L615.9,178.2 L618.2,178.2 L620.7,177.9 L623.1,176.8 L625.5,175.8 L628.0,175.4 L630.4,174.7 L632.7,174.7 L635.2,175.8 L637.6,175.0 L640.0,175.2 L642.5,174.2 L644.9,173.3 L647.2,172.6 L649.7,170.5 L652.1,169.9 L654.6,169.4 L656.9,167.3 L659.3,166.8 L661.8,165.7 L664.2,165.2 L666.6,164.6 L669.1,164.1 L671.4,162.7 L673.8,162.0 L676.3,161.0 L678.7,158.5 L681.1,156.8 L683.5,155.7 L685.9,154.6 L688.3,153.9 L690.7,152.9 L693.1,151.8 L695.6,150.8 L698.0,150.1 L700.4,149.4 L702.8,148.6 L705.2,146.9 L707.7,146.2 L710.1,145.5 L712.5,144.6 L714.9,143.7 L717.4,142.6 L719.8,141.9 L722.2,141.6 L724.6,144.1 L727.0,141.2" fill="none" stroke="#12795A" stroke-width="1.5" stroke-linejoin="round" stroke-linecap="butt"/>
<path d="M79.7,357.6 L103.8,368.2 L128.0,347.9 L152.1,373.5 L176.3,358.2 L200.4,382.9 L224.6,364.1 L248.7,351.8 L272.9,369.4 L297.1,342.4 L321.2,367.1 L345.4,379.4 L369.5,337.3 L376.8,347.3 L379.2,321.4 L381.6,339.4 L384.0,355.3 L386.4,342.4 L388.8,331.8 L391.3,330.8 L393.7,338.8 L396.1,340.6 L398.5,318.2 L400.9,319.4 L403.3,321.2 L405.7,322.1 L408.2,332.9 L410.6,345.3 L413.0,328.2 L415.4,317.6 L417.8,308.2 L420.2,314.1 L422.7,306.8 L425.1,306.5 L427.5,322.4 L429.9,336.2 L432.3,331.8 L434.7,315.1 L437.1,313.5 L439.6,310.8 L442.0,315.9 L444.4,311.8 L446.8,311.2 L449.2,315.9 L451.6,304.1 L454.1,304.1 L456.5,302.9 L458.9,301.4 L461.3,301.2 L463.7,298.8 L466.1,299.4 L468.5,306.5 L471.0,313.5 L473.4,379.1 L475.8,336.0 L478.2,310.0 L480.6,286.5 L483.0,288.2 L485.5,285.9 L487.9,295.9 L490.3,282.4 L492.7,280.0 L495.1,288.8 L497.5,281.2 L499.9,291.2 L502.4,277.1 L504.8,274.7 L507.2,271.2 L509.6,272.2 L512.0,268.7 L514.4,262.8 L516.9,268.4 L519.3,264.6 L521.7,263.8 L524.1,275.1 L526.5,313.0 L528.9,314.2 L531.3,279.2 L533.8,268.1 L536.2,306.6 L538.6,267.5 L541.0,249.1 L543.4,247.9 L545.8,242.6 L548.3,241.5 L550.7,230.0 L553.1,222.9 L555.5,219.4 L557.9,218.8 L560.3,215.3 L562.7,215.9 L565.2,213.5 L567.6,215.3 L570.0,210.6 L572.4,209.4 L574.8,208.8 L577.2,208.2 L579.7,209.4 L582.1,208.2 L584.5,207.6 L586.9,207.9 L589.3,206.5 L591.7,205.3 L594.2,205.1 L596.6,205.5 L599.0,202.9 L601.4,203.5 L603.8,200.6 L606.2,198.8 L608.6,198.2 L611.1,195.9 L613.5,193.2 L615.9,190.6 L618.2,189.0 L620.7,187.4 L623.1,185.8 L625.5,184.2 L628.0,182.1 L630.4,181.8 L632.7,181.4 L635.2,182.4 L637.6,181.6 L640.0,181.1 L642.5,180.7 L644.9,180.3 L647.2,180.0 L649.7,178.4 L652.1,177.4 L654.6,175.8 L656.9,173.1 L659.3,172.6 L661.8,171.5 L664.2,170.5 L666.6,169.4 L669.1,168.4 L671.4,167.0 L673.8,165.7 L676.3,164.9 L678.7,163.5 L681.1,162.1 L683.5,161.0 L685.9,159.6 L688.3,158.9 L690.7,157.8 L693.1,156.8 L695.6,155.7 L698.0,154.6 L700.4,153.6 L702.8,152.5 L705.2,151.5 L707.7,150.8 L710.1,150.1 L712.5,149.4 L714.9,148.6 L717.4,147.7 L719.8,147.9 L722.2,148.6 L724.6,150.8 L727.0,148.3" fill="none" stroke="#fff" stroke-width="2.5" stroke-linejoin="round" stroke-linecap="butt"/>
<path d="M79.7,357.6 L103.8,368.2 L128.0,347.9 L152.1,373.5 L176.3,358.2 L200.4,382.9 L224.6,364.1 L248.7,351.8 L272.9,369.4 L297.1,342.4 L321.2,367.1 L345.4,379.4 L369.5,337.3 L376.8,347.3 L379.2,321.4 L381.6,339.4 L384.0,355.3 L386.4,342.4 L388.8,331.8 L391.3,330.8 L393.7,338.8 L396.1,340.6 L398.5,318.2 L400.9,319.4 L403.3,321.2 L405.7,322.1 L408.2,332.9 L410.6,345.3 L413.0,328.2 L415.4,317.6 L417.8,308.2 L420.2,314.1 L422.7,306.8 L425.1,306.5 L427.5,322.4 L429.9,336.2 L432.3,331.8 L434.7,315.1 L437.1,313.5 L439.6,310.8 L442.0,315.9 L444.4,311.8 L446.8,311.2 L449.2,315.9 L451.6,304.1 L454.1,304.1 L456.5,302.9 L458.9,301.4 L461.3,301.2 L463.7,298.8 L466.1,299.4 L468.5,306.5 L471.0,313.5 L473.4,379.1 L475.8,336.0 L478.2,310.0 L480.6,286.5 L483.0,288.2 L485.5,285.9 L487.9,295.9 L490.3,282.4 L492.7,280.0 L495.1,288.8 L497.5,281.2 L499.9,291.2 L502.4,277.1 L504.8,274.7 L507.2,271.2 L509.6,272.2 L512.0,268.7 L514.4,262.8 L516.9,268.4 L519.3,264.6 L521.7,263.8 L524.1,275.1 L526.5,313.0 L528.9,314.2 L531.3,279.2 L533.8,268.1 L536.2,306.6 L538.6,267.5 L541.0,249.1 L543.4,247.9 L545.8,242.6 L548.3,241.5 L550.7,230.0 L553.1,222.9 L555.5,219.4 L557.9,218.8 L560.3,215.3 L562.7,215.9 L565.2,213.5 L567.6,215.3 L570.0,210.6 L572.4,209.4 L574.8,208.8 L577.2,208.2 L579.7,209.4 L582.1,208.2 L584.5,207.6 L586.9,207.9 L589.3,206.5 L591.7,205.3 L594.2,205.1 L596.6,205.5 L599.0,202.9 L601.4,203.5 L603.8,200.6 L606.2,198.8 L608.6,198.2 L611.1,195.9 L613.5,193.2 L615.9,190.6 L618.2,189.0 L620.7,187.4 L623.1,185.8 L625.5,184.2 L628.0,182.1 L630.4,181.8 L632.7,181.4 L635.2,182.4 L637.6,181.6 L640.0,181.1 L642.5,180.7 L644.9,180.3 L647.2,180.0 L649.7,178.4 L652.1,177.4 L654.6,175.8 L656.9,173.1 L659.3,172.6 L661.8,171.5 L664.2,170.5 L666.6,169.4 L669.1,168.4 L671.4,167.0 L673.8,165.7 L676.3,164.9 L678.7,163.5 L681.1,162.1 L683.5,161.0 L685.9,159.6 L688.3,158.9 L690.7,157.8 L693.1,156.8 L695.6,155.7 L698.0,154.6 L700.4,153.6 L702.8,152.5 L705.2,151.5 L707.7,150.8 L710.1,150.1 L712.5,149.4 L714.9,148.6 L717.4,147.7 L719.8,147.9 L722.2,148.6 L724.6,150.8 L727.0,148.3" fill="none" stroke="#996D39" stroke-width="1.5" stroke-linejoin="round" stroke-linecap="butt"/>
<text x="752.8" y="115.7" font-size="13" fill="#6D3E91" textLength="66" lengthAdjust="spacingAndGlyphs">Switzerland</text>
<text x="752.8" y="134.0" font-size="13" fill="#00295B" textLength="30.3" lengthAdjust="spacingAndGlyphs">Spain</text>
<text x="752.8" y="152.4" font-size="13" fill="#12795A" textLength="44.3" lengthAdjust="spacingAndGlyphs">Norway</text>
<text x="752.8" y="170.7" font-size="13" fill="#B13507" textLength="44.3" lengthAdjust="spacingAndGlyphs">Sweden</text>
<text x="752.8" y="189.0" font-size="13" fill="#996D39" textLength="40.7" lengthAdjust="spacingAndGlyphs">Finland</text>
<text x="752.8" y="207.4" font-size="13" fill="#883039" textLength="76" lengthAdjust="spacingAndGlyphs">United States</text>
<text x="17" y="581.2" font-size="13" font-weight="bold" fill="#666" textLength="70.6" lengthAdjust="spacingAndGlyphs">Data source:</text>
<text x="92.4" y="581.2" font-size="13" fill="#666" textLength="375" lengthAdjust="spacingAndGlyphs">Riley (2005); Zijdeman et al. (2015); HMD (2025); UN WPP (2024)</text>
<text x="830.3" y="581.2" font-size="13" fill="#666" text-anchor="end" textLength="255" lengthAdjust="spacingAndGlyphs">OurWorldinData.org/life-expectancy | CC BY</text>
</svg>
</body></html>
